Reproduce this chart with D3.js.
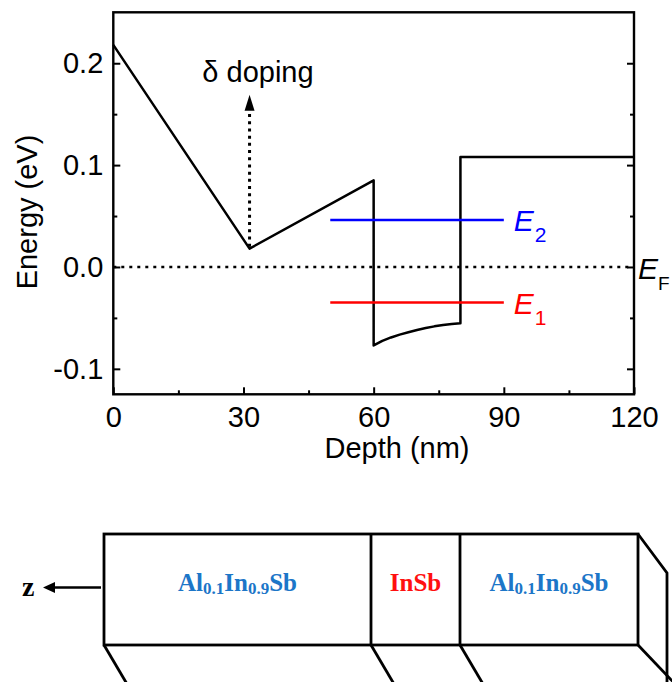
<!DOCTYPE html>
<html>
<head>
<meta charset="utf-8">
<script src="https://cdn.jsdelivr.net/npm/d3@7"></script>
<style>
  body { margin: 0; background: #fff; }
  svg { display: block; }
</style>
</head>
<body>
<svg id="chart" width="672" height="682"></svg>
<script>
// Axis ticks
const depthTicks = [0, 30, 60, 90, 120];
const depthMinorTicks = [15, 45, 75, 105];
const energyTicks = [-0.1, 0.0, 0.1, 0.2];
const energyMinorTicks = [-0.05, 0.05, 0.15];

// Conduction band edge along the growth direction
const profileDepth  = [0, 31.4, 60, 60, 62, 64, 66, 68, 70, 72, 74, 76, 78, 80, 80, 120];
const profileEnergy = [0.218, 0.018, 0.085, -0.077, -0.0725, -0.0692, -0.0664, -0.0641, -0.0619,
                       -0.0600, -0.0583, -0.0569, -0.0559, -0.0553, 0.108, 0.108];

// Subband levels
const subbandLabels = ["1", "2"];
const subbandEnergy = [-0.035, 0.046];
const subbandStart = [50, 50];
const subbandEnd = [90, 90];

// Fermi level and delta-doping plane
const fermiEnergy = 0.0;
const deltaDepth = 31.4;
const deltaArrowTop = 0.169;

// Layer stack
const layerNames = ["Al0.1In0.9Sb", "InSb", "Al0.1In0.9Sb"];
const layerEdges = [0, 60, 80, 120];

const svg = d3.select("#chart");
const FONT = "'Liberation Sans', Arial, sans-serif";
const SERIF = "'Liberation Serif', 'Times New Roman', serif";

const plot = { left: 113.3, right: 634, top: 12.3, bottom: 394.3 };
const x = d3.scaleLinear().domain([0, 120]).range([plot.left, plot.right]);
const y = d3.scaleLinear().domain([-0.125, 0.25]).range([plot.bottom, plot.top]);

const g = svg.append("g");

// axes with inward ticks
function styleAxis(sel) {
  sel.select(".domain").remove();
  sel.selectAll(".tick line").attr("stroke", "#000").attr("stroke-width", 2);
  sel.selectAll(".tick text").attr("fill", "#000").style("font-family", FONT).style("font-size", "29px");
}

g.append("g").attr("transform", `translate(${plot.left},0)`)
  .call(d3.axisLeft(y).tickValues(energyTicks).tickSizeInner(-7).tickSizeOuter(0)
        .tickPadding(10).tickFormat(d => d.toFixed(1)))
  .call(styleAxis);
g.append("g").attr("transform", `translate(${plot.left},0)`)
  .call(d3.axisLeft(y).tickValues(energyMinorTicks).tickSizeInner(-4).tickSizeOuter(0).tickFormat(""))
  .call(styleAxis);
g.append("g").attr("transform", `translate(${plot.right},0)`)
  .call(d3.axisRight(y).tickValues(energyTicks).tickSizeInner(-7).tickSizeOuter(0).tickFormat(""))
  .call(styleAxis);
g.append("g").attr("transform", `translate(${plot.right},0)`)
  .call(d3.axisRight(y).tickValues(energyMinorTicks).tickSizeInner(-4).tickSizeOuter(0).tickFormat(""))
  .call(styleAxis);
g.append("g").attr("transform", `translate(0,${plot.bottom})`)
  .call(d3.axisBottom(x).tickValues(depthTicks).tickSizeInner(-7).tickSizeOuter(0).tickPadding(12))
  .call(styleAxis);
g.append("g").attr("transform", `translate(0,${plot.bottom})`)
  .call(d3.axisBottom(x).tickValues(depthMinorTicks).tickSizeInner(-4).tickSizeOuter(0).tickFormat(""))
  .call(styleAxis);

// frame
g.append("rect")
  .attr("x", plot.left).attr("y", plot.top)
  .attr("width", plot.right - plot.left).attr("height", plot.bottom - plot.top)
  .attr("fill", "none").attr("stroke", "#000").attr("stroke-width", 2.4);

// axis titles
g.append("text")
  .attr("x", 397).attr("y", 458)
  .attr("text-anchor", "middle")
  .style("font-family", FONT).style("font-size", "29px")
  .text("Depth (nm)");
g.append("text")
  .attr("transform", "translate(37,212) rotate(-90)")
  .attr("text-anchor", "middle")
  .style("font-family", FONT).style("font-size", "29px")
  .text("Energy (eV)");

// Fermi level
g.append("line")
  .attr("x1", x(0)).attr("x2", x(120))
  .attr("y1", y(fermiEnergy)).attr("y2", y(fermiEnergy))
  .attr("stroke", "#000").attr("stroke-width", 2.5)
  .attr("stroke-dasharray", "3,5");

// band edge
const profile = profileDepth.map((d, i) => [d, profileEnergy[i]]);
g.append("path")
  .datum(profile)
  .attr("d", d3.line().x(d => x(d[0])).y(d => y(d[1])))
  .attr("fill", "none").attr("stroke", "#000").attr("stroke-width", 2.5)
  .attr("stroke-linejoin", "round");

// delta-doping marker
const deltaBase = profileEnergy[profileDepth.indexOf(deltaDepth)];
const headLen = 16, headHalf = 5;
g.append("line")
  .attr("x1", x(deltaDepth)).attr("x2", x(deltaDepth))
  .attr("y1", y(deltaBase) - 2).attr("y2", y(deltaArrowTop) + headLen)
  .attr("stroke", "#000").attr("stroke-width", 3)
  .attr("stroke-dasharray", "3,4.2");
g.append("path")
  .attr("d", `M${x(deltaDepth)},${y(deltaArrowTop)} L${x(deltaDepth) + headHalf},${y(deltaArrowTop) + headLen} L${x(deltaDepth) - headHalf},${y(deltaArrowTop) + headLen} Z`)
  .attr("fill", "#000");
g.append("text")
  .attr("x", 258).attr("y", 82)
  .attr("text-anchor", "middle")
  .style("font-family", FONT).style("font-size", "29px")
  .text("\u03b4 doping");

// subband levels
const subbandColor = ["#ff0000", "#0000ff"];
subbandEnergy.forEach((e, i) => {
  g.append("line")
    .attr("x1", x(subbandStart[i])).attr("x2", x(subbandEnd[i]))
    .attr("y1", y(e)).attr("y2", y(e))
    .attr("stroke", subbandColor[i]).attr("stroke-width", 2.5);
  const t = g.append("text")
    .attr("x", x(subbandEnd[i]) + 10).attr("y", y(e) + 11)
    .attr("fill", subbandColor[i])
    .style("font-family", FONT).style("font-size", "30px");
  t.append("tspan").style("font-style", "italic").text("E");
  t.append("tspan").attr("dx", 1).attr("dy", 11).style("font-size", "21px").text(subbandLabels[i]);
});

// Fermi label
const ef = g.append("text")
  .attr("x", 638).attr("y", y(fermiEnergy) + 12)
  .style("font-family", FONT).style("font-size", "30px");
ef.append("tspan").style("font-style", "italic").text("E");
ef.append("tspan").attr("dx", 0).attr("dy", 11).style("font-size", "19px").text("F");

// ---- layer stack sketch ----
const bx = d3.scaleLinear().domain([0, 120]).range([104, 638]);
const boxTop = 534, boxBottom = 645;
const stack = svg.append("g");
const sw = 2.8;

// front face
stack.append("rect")
  .attr("x", bx(layerEdges[0])).attr("y", boxTop)
  .attr("width", bx(layerEdges[layerEdges.length - 1]) - bx(layerEdges[0]))
  .attr("height", boxBottom - boxTop)
  .attr("fill", "none").attr("stroke", "#000").attr("stroke-width", sw);
layerEdges.slice(1, -1).forEach(e => {
  stack.append("line")
    .attr("x1", bx(e)).attr("x2", bx(e)).attr("y1", boxTop).attr("y2", boxBottom)
    .attr("stroke", "#000").attr("stroke-width", sw);
});
// receding edges below the front face
layerEdges.slice(0, -1).forEach(e => {
  stack.append("line")
    .attr("x1", bx(e)).attr("y1", boxBottom)
    .attr("x2", bx(e) + 0.59 * 60).attr("y2", boxBottom + 60)
    .attr("stroke", "#000").attr("stroke-width", sw);
});
// right-hand face
const xr = bx(layerEdges[layerEdges.length - 1]);
stack.append("path")
  .attr("d", `M${xr},${boxTop} L${xr + 29},${boxTop + 39} L${xr + 29},${boxBottom + 60}`)
  .attr("fill", "none").attr("stroke", "#000").attr("stroke-width", sw).attr("stroke-linejoin", "miter");
stack.append("line")
  .attr("x1", xr).attr("y1", boxBottom).attr("x2", xr + 40).attr("y2", boxBottom + 42)
  .attr("stroke", "#000").attr("stroke-width", sw);

// layer names
const layerColor = ["#1c76c8", "#ff1010", "#1c76c8"];
layerNames.forEach((name, i) => {
  const cx = (bx(layerEdges[i]) + bx(layerEdges[i + 1])) / 2;
  const t = stack.append("text")
    .attr("x", cx).attr("y", 591)
    .attr("text-anchor", "middle")
    .attr("fill", layerColor[i])
    .style("font-family", SERIF).style("font-weight", "bold").style("font-size", "25px");
  // split chemical formula into element symbols and subscripted fractions
  const parts = name.match(/[A-Z][a-z]?|[0-9.]+/g);
  let sub = false;
  parts.forEach(p => {
    const isNum = /^[0-9.]/.test(p);
    const ts = t.append("tspan").text(p);
    if (isNum && !sub) { ts.attr("dy", 3).style("font-size", "17px"); sub = true; }
    else if (!isNum && sub) { ts.attr("dy", -3); sub = false; }
  });
});

// growth-direction arrow
stack.append("line")
  .attr("x1", bx(0) - 3).attr("x2", 53).attr("y1", 587.5).attr("y2", 587.5)
  .attr("stroke", "#000").attr("stroke-width", 2.5);
stack.append("path")
  .attr("d", "M43,587.5 L55,582 L55,593 Z").attr("fill", "#000");
stack.append("text")
  .attr("x", 22).attr("y", 596)
  .style("font-family", SERIF).style("font-weight", "bold").style("font-size", "28px")
  .text("z");
</script>
</body>
</html>
